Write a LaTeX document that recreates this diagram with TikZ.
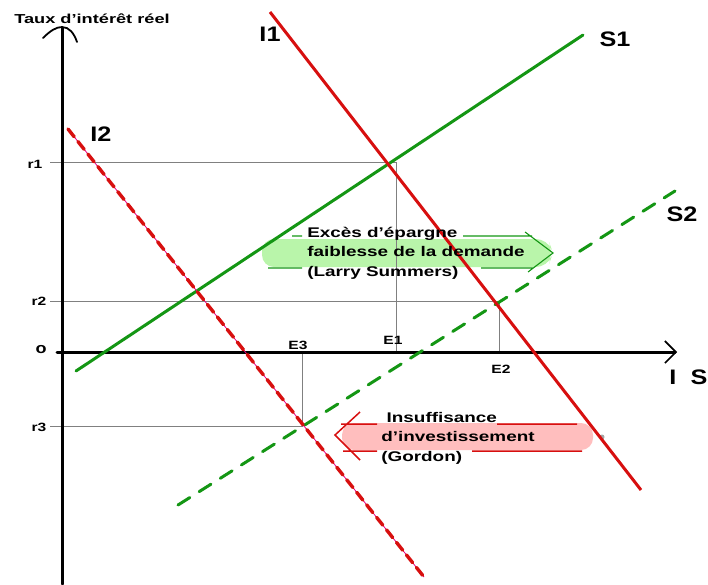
\documentclass[tikz,border=0pt]{standalone}
\usepackage{fontspec}
\setmainfont{Liberation Sans}
\usetikzlibrary{arrows.meta}

\definecolor{vertS}{RGB}{20,150,20}
\definecolor{rougeI}{RGB}{215,15,15}
\definecolor{vertpale}{RGB}{185,245,170}
\definecolor{rosepale}{RGB}{255,190,190}

\begin{document}
\begin{tikzpicture}[x=1pt,y=-1pt,
    axe/.style={line width=3pt,line cap=round},
    repere/.style={gray,line width=0.7pt},
    etiq/.style={xscale=1.3,transform shape,font=\bfseries\fontsize{12}{14}\selectfont},
    nomcourbe/.style={xscale=1.2,transform shape,font=\bfseries\fontsize{21}{23}\selectfont},
    boite/.style={xscale=1.35,transform shape,align=left,anchor=west,inner sep=0pt,
      font=\bfseries\fontsize{14}{19.5}\selectfont}]
  \useasboundingbox (0,0) rectangle (708,584);

  % equilibres
  \coordinate (E1) at (396,162);
  \coordinate (E2) at (499,301);
  \coordinate (E3) at (302,426);

  % bulles
  \fill[vertpale,rounded corners=12pt] (262,239) -- (548,239) -- (553,253) -- (548,267) -- (262,267) -- cycle;
  \fill[rosepale,rounded corners=12pt] (342,423) rectangle (593,450);
  \fill[gray!70] (602,437) circle (2.5pt);

  % lignes de repere
  \draw[repere] (50,162) -- (E1) -- (E1 |- 0,352);
  \draw[repere] (50,301) -- (E2) -- (E2 |- 0,352);
  \draw[repere] (50,426) -- (E3) -- (E3 |- 0,352);

  % axes
  \draw[axe] (62,584) -- (62,28);
  \draw[line width=1.8pt,line cap=round] (43,38) .. controls (50,31) and (56,27) .. (62,27)
    .. controls (69,27) and (74,33) .. (77,42);
  \draw[axe,-{Straight Barb[length=11pt,width=22pt,line width=1.6pt]}] (57,352) -- (677,352);

  % courbes
  \draw[vertS,line width=3pt,line cap=round] (76,371) -- (583,35);
  \draw[vertS,line width=3pt,dash pattern=on 14pt off 11pt,line cap=round] (178,505) -- (675,191);
  \draw[rougeI,line width=3pt] (270,12) -- (641,490);
  \draw[magenta,line width=0.8pt] (68,129) -- (424,577);
  \draw[rougeI,line width=3.4pt,dash pattern=on 10pt off 6pt,line cap=round] (68,129) -- (424,577);

  % fleches des bulles
  \draw[vertS,line width=1.1pt] (292,236) -- (302,236) (463,236) -- (532,236)
    (268,268) -- (302,268) (481,268) -- (533,268)
    (525,232) -- (553,253) -- (528,272);
  \draw[rougeI,line width=1.5pt] (341,424) -- (377,424) (497,424) -- (577,424)
    (343,451) -- (377,451) (472,451) -- (582,451)
    (360,412) -- (335,435) -- (360,460);

  \node[boite] (exces) at (307,253) {Excès d’épargne\\faiblesse de la demande\\(Larry Summers)};
  \node[boite] (insuf) at (381,438) {\hspace{4pt}Insuffisance\\d’investissement\\(Gordon)};

  % textes
  \node[xscale=1.4,transform shape,font=\bfseries\fontsize{13}{15}\selectfont] (taux) at (92,19) {Taux d’intérêt réel};
  \node[nomcourbe] (nI1) at (270,34) {I1};
  \node[nomcourbe] (nI2) at (101,134) {I2};
  \node[nomcourbe] (nS1) at (615,39) {S1};
  \node[nomcourbe] (nS2) at (682,214) {S2};
  \node[nomcourbe,anchor=west] (nIS) at (665,377) {I\hspace{12pt}S};
  \node[xscale=1.2,transform shape,font=\bfseries\fontsize{15}{17}\selectfont] (orig) at (41,350) {o};
  \node[etiq] (r1) at (35,164) {r1};
  \node[etiq] (r2) at (39,301) {r2};
  \node[etiq] (r3) at (39,427) {r3};
  \node[etiq] (lE1) at (393,340) {E1};
  \node[etiq] (lE2) at (501,369) {E2};
  \node[etiq] (lE3) at (298,345) {E3};
\end{tikzpicture}
\end{document}
